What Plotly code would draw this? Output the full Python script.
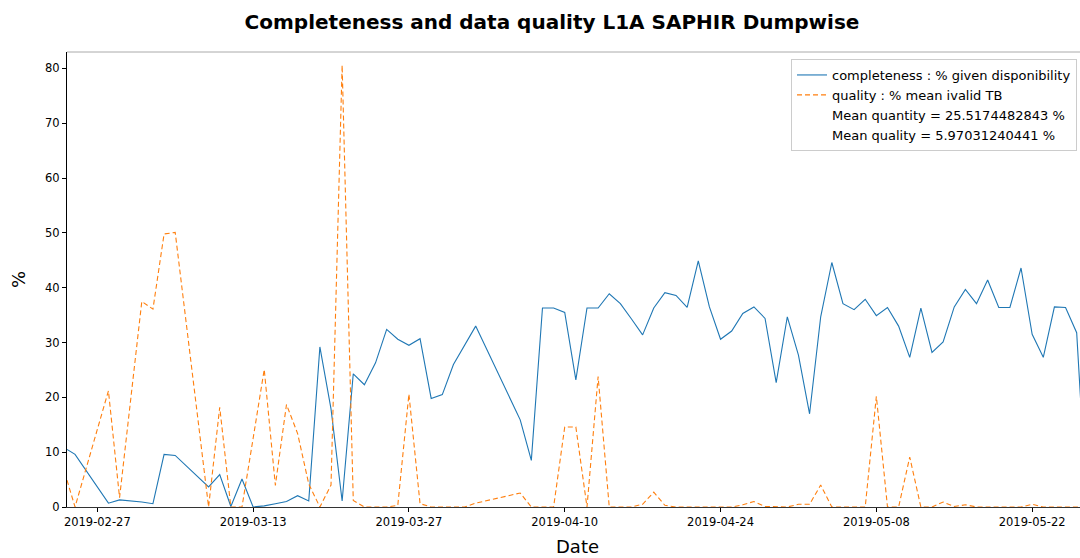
import plotly.graph_objects as go

dates = [
    "2019-02-24 06:40", "2019-02-25 00:00", "2019-02-28", "2019-03-01", "2019-03-03",
    "2019-03-04", "2019-03-05", "2019-03-06", "2019-03-09", "2019-03-10",
    "2019-03-11", "2019-03-12", "2019-03-13", "2019-03-14", "2019-03-15",
    "2019-03-16", "2019-03-17", "2019-03-18", "2019-03-19", "2019-03-20",
    "2019-03-21", "2019-03-22", "2019-03-23", "2019-03-24", "2019-03-25",
    "2019-03-26", "2019-03-27", "2019-03-28", "2019-03-29", "2019-03-30",
    "2019-03-31", "2019-04-01", "2019-04-02", "2019-04-06", "2019-04-07",
    "2019-04-08", "2019-04-09", "2019-04-10", "2019-04-11", "2019-04-12",
    "2019-04-13", "2019-04-14", "2019-04-15", "2019-04-16", "2019-04-17",
    "2019-04-18", "2019-04-19", "2019-04-20", "2019-04-21", "2019-04-22",
    "2019-04-23", "2019-04-24", "2019-04-25", "2019-04-26", "2019-04-27",
    "2019-04-28", "2019-04-29", "2019-04-30", "2019-05-01", "2019-05-02",
    "2019-05-03", "2019-05-04", "2019-05-05", "2019-05-06", "2019-05-07",
    "2019-05-08", "2019-05-09", "2019-05-10", "2019-05-11", "2019-05-12",
    "2019-05-13", "2019-05-14", "2019-05-15", "2019-05-16", "2019-05-17",
    "2019-05-18", "2019-05-19", "2019-05-20", "2019-05-21", "2019-05-22",
    "2019-05-23", "2019-05-24", "2019-05-25", "2019-05-26", "2019-05-26 13:00",
]

completeness = [
    10.5, 9.6, 0.7, 1.3, 0.9,
    0.6, 9.6, 9.4, 3.65, 5.9,
    0.1, 5.1, 0.0, 0.2, 0.6,
    1.0, 2.07, 1.1, 29.2, 17.9,
    1.1, 24.3, 22.3, 26.3, 32.4,
    30.6, 29.5, 30.7, 19.8, 20.5,
    26.0, 29.4, 33.0, 15.9, 8.5,
    36.3, 36.3, 35.5, 23.2, 36.3,
    36.3, 38.9, 37.1, 34.3, 31.4,
    36.3, 39.1, 38.6, 36.4, 44.9,
    36.5, 30.6, 32.1, 35.3, 36.5,
    34.4, 22.7, 34.7, 27.7, 17.0,
    34.7, 44.6, 37.1, 36.0, 37.9,
    34.9, 36.4, 33.0, 27.3, 36.3,
    28.2, 30.1, 36.5, 39.7, 37.1,
    41.4, 36.4, 36.4, 43.6, 31.5,
    27.3, 36.5, 36.4, 31.8, 13.0,
]

quality = [
    4.9, 0.0, 21.2, 1.7, 37.5,
    36.1, 49.8, 50.1, 0.0, 18.2,
    0.0, 0.0, 12.5, 25.1, 3.95,
    18.7, 13.4, 4.2, 0.0, 4.0,
    80.6, 1.2, 0.0, 0.0, 0.0,
    0.3, 20.6, 0.6, 0.0, 0.0,
    0.0, 0.0, 0.7, 2.55, 0.0,
    0.0, 0.0, 14.6, 14.6, 0.0,
    23.8, 0.0, 0.0, 0.0, 0.5,
    2.7, 0.3, 0.0, 0.0, 0.0,
    0.0, 0.0, 0.0, 0.4, 1.0,
    0.1, 0.0, 0.0, 0.5, 0.5,
    4.0, 0.0, 0.0, 0.0, 0.0,
    20.2, 0.0, 0.0, 9.1, 0.0,
    0.0, 0.9, 0.1, 0.4, 0.0,
    0.0, 0.0, 0.0, 0.0, 0.5,
    0.0, 0.0, 0.0, 0.0, 0.0,
]

tick_dates = ["2019-02-27", "2019-03-13", "2019-03-27", "2019-04-10",
              "2019-04-24", "2019-05-08", "2019-05-22"]
y_ticks = [0, 10, 20, 30, 40, 50, 60, 70, 80]

name_completeness = "completeness : % given disponibility"
name_quality = "quality : % mean ivalid TB"
mean_quantity_text = "Mean quantity = 25.5174482843 %"
mean_quality_text = "Mean quality = 5.97031240441 %"

FONT = "DejaVu Sans"
W, H = 1080, 558
ML, MR, MT, MB = 67, 0, 52, 51

fig = go.Figure()
fig.add_trace(go.Scatter(x=dates, y=completeness, mode="lines", name=name_completeness,
                         line=dict(color="#1f77b4", width=1.1)))
fig.add_trace(go.Scatter(x=dates, y=quality, mode="lines", name=name_quality,
                         line=dict(color="#ff7f0e", width=1.1, dash="5px,3px")))
for t in (mean_quantity_text, mean_quality_text):
    fig.add_trace(go.Scatter(x=[None], y=[None], mode="lines", name=t,
                             line=dict(color="rgba(0,0,0,0)", width=0)))

fig.update_layout(
    width=W, height=H,
    margin=dict(l=ML, r=MR, t=MT, b=MB),
    paper_bgcolor="white", plot_bgcolor="white",
    font=dict(family=FONT, color="#000", size=12),
    title=dict(text="<b>Completeness and data quality L1A SAPHIR Dumpwise</b>",
               font=dict(family=FONT, size=20, color="#000"),
               x=552 / W, xref="container", xanchor="center",
               y=1 - 22 / H, yref="container", yanchor="middle"),
    showlegend=True,
    legend=dict(x=(1077 - ML) / (W - ML - MR), xanchor="right",
                y=1 - (59 - MT) / (H - MT - MB), yanchor="top",
                bgcolor="rgba(255,255,255,0.8)", bordercolor="#cccccc", borderwidth=1,
                font=dict(family=FONT, size=13, color="#000"),
                itemwidth=30, tracegroupgap=0),
)

fig.update_xaxes(
    type="date",
    range=["2019-02-24 06:40", "2019-05-26 07:10"],
    tickvals=tick_dates, tickformat="%Y-%m-%d",
    ticks="outside", ticklen=4, tickcolor="#000", tickwidth=1,
    tickfont=dict(family=FONT, size=11.5, color="#000"),
    showline=True, linecolor="#333", linewidth=1,
    showgrid=False, zeroline=False,
)
fig.update_yaxes(
    range=[0, 83.0],
    tickvals=y_ticks,
    ticks="outside", ticklen=4, tickcolor="#000", tickwidth=1,
    tickfont=dict(family=FONT, size=11.5, color="#000"),
    showline=True, linecolor="#000", linewidth=1,
    showgrid=False, zeroline=False,
)

# top spine (light)
fig.add_shape(type="line", xref="paper", yref="paper", x0=0, x1=1, y0=1, y1=1,
              line=dict(color="#aaaaaa", width=1))

fig.add_annotation(text="Date", xref="paper", yref="paper",
                   x=(577 - ML) / (W - ML - MR), y=-(546 - (H - MB)) / (H - MT - MB),
                   xanchor="center", yanchor="middle", showarrow=False,
                   font=dict(family=FONT, size=18, color="#000"))
fig.add_annotation(text="%", xref="paper", yref="paper",
                   x=-(ML - 18) / (W - ML - MR), y=(H - MB - 280) / (H - MT - MB),
                   xanchor="center", yanchor="middle", showarrow=False, textangle=-90,
                   font=dict(family=FONT, size=18, color="#000"))

fig.write_html(
    "out.html",
    config={"displayModeBar": False},
    post_script="document.body.style.margin='0';document.body.style.padding='0';"
                "document.body.style.overflow='hidden';",
)
